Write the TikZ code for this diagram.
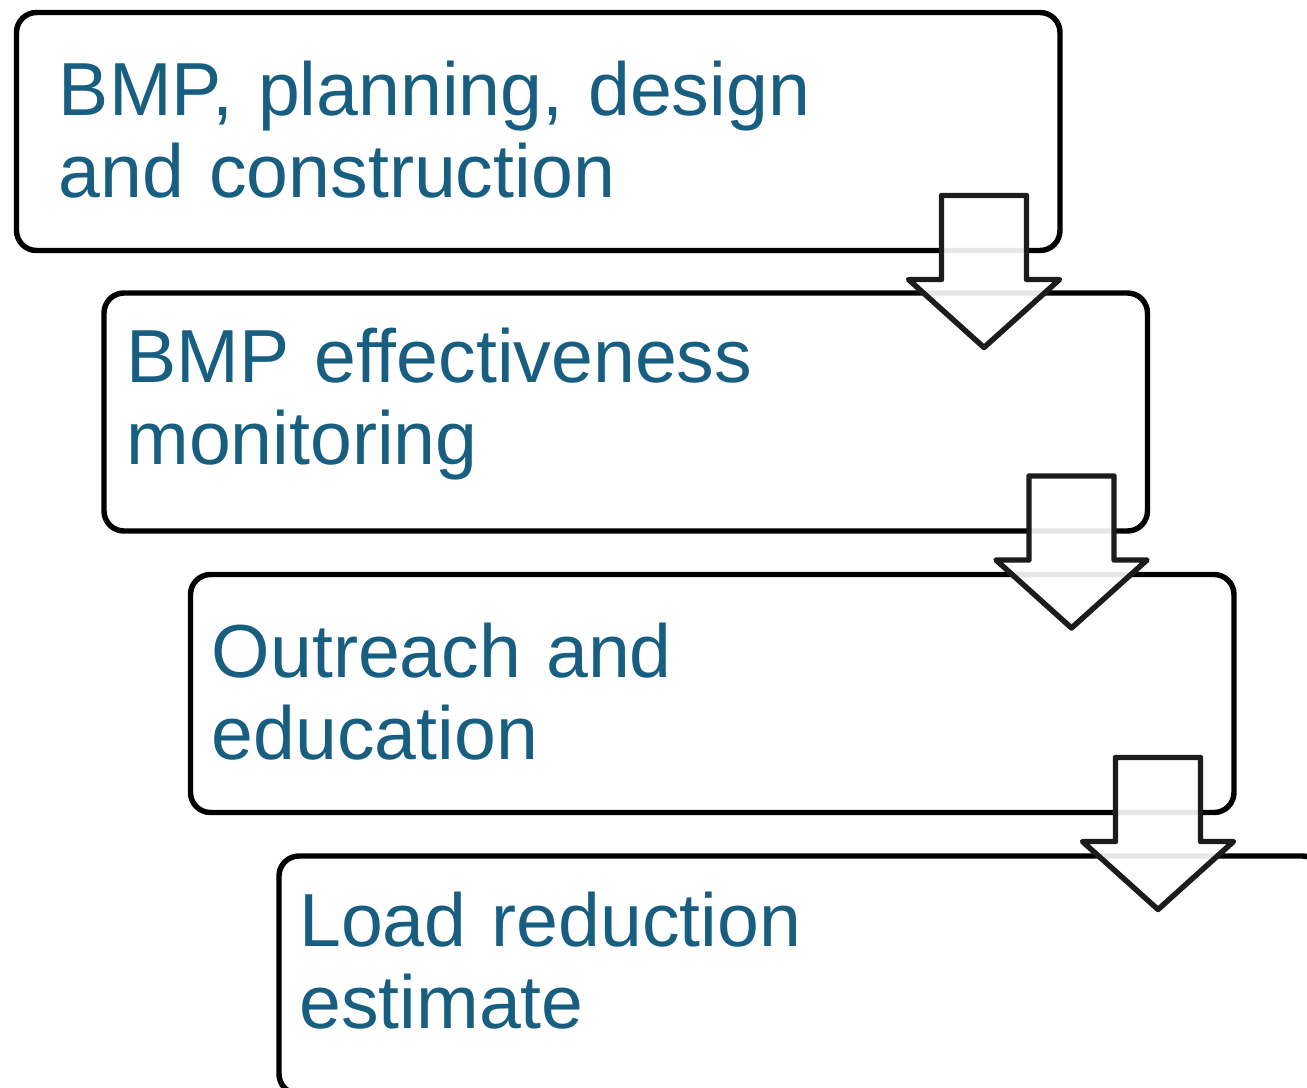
\documentclass[tikz,border=0pt]{standalone}
\usepackage{fontspec}
\setmainfont{Liberation Sans}
\usepackage{tikz}
\usetikzlibrary{positioning}
\definecolor{stepblue}{RGB}{23,94,128}
\definecolor{arrowgray}{RGB}{28,28,28}
\tikzset {
stepbox/.style={shape=rectangle,draw=black,fill=white,line width=3.1pt,rounded corners=0.4cm,
  minimum width=20.87cm,minimum height=4.76cm,inner sep=0pt,outer sep=0pt},
steptext/.style={text=stepblue,inner sep=0pt,text width=20cm,align=left,anchor=base west,
  font=\fontsize{42.8}{46.8}\selectfont},
flowarrow/.style={draw=arrowgray,fill=white,fill opacity=0.9,line width=3.1pt,line join=round}
}

\begin{document}
\begin{tikzpicture}
\useasboundingbox (0,0) rectangle (26.14,-21.76);
\node[stepbox] (b1) at (10.765,-2.63) {};
\node[stepbox] (b2) [below=0.85cm of b1,xshift=1.75cm] {};
\node[stepbox] (b3) [below=0.87cm of b2,xshift=1.73cm] {};
\node[stepbox] (b4) [below=0.87cm of b3,xshift=1.77cm] {};

\node[steptext,xshift=0.84cm,yshift=-2.05cm] (t1) at (b1.north west) {BMP, planning, design\\and construction};
\node[steptext,xshift=0.44cm,yshift=-1.78cm] (t2) at (b2.north west) {BMP effectiveness\\monitoring};
\node[steptext,xshift=0.42cm,yshift=-2.05cm] (t3) at (b3.north west) {Outreach and\\education};
\node[steptext,xshift=0.40cm,yshift=-1.80cm] (t4) at (b4.north west) {Load reduction\\estimate};

% block arrows from one box down to the next
\foreach \b in {b1,b2,b3}
  \draw[flowarrow,shift={(\b.south east)}] (-2.37,1.10) -- (-0.67,1.10) -- (-0.67,-0.58) -- (-0.01,-0.58)
    -- (-1.52,-1.94) -- (-3.03,-0.58) -- (-2.37,-0.58) -- cycle;
\end{tikzpicture}
\end{document}
